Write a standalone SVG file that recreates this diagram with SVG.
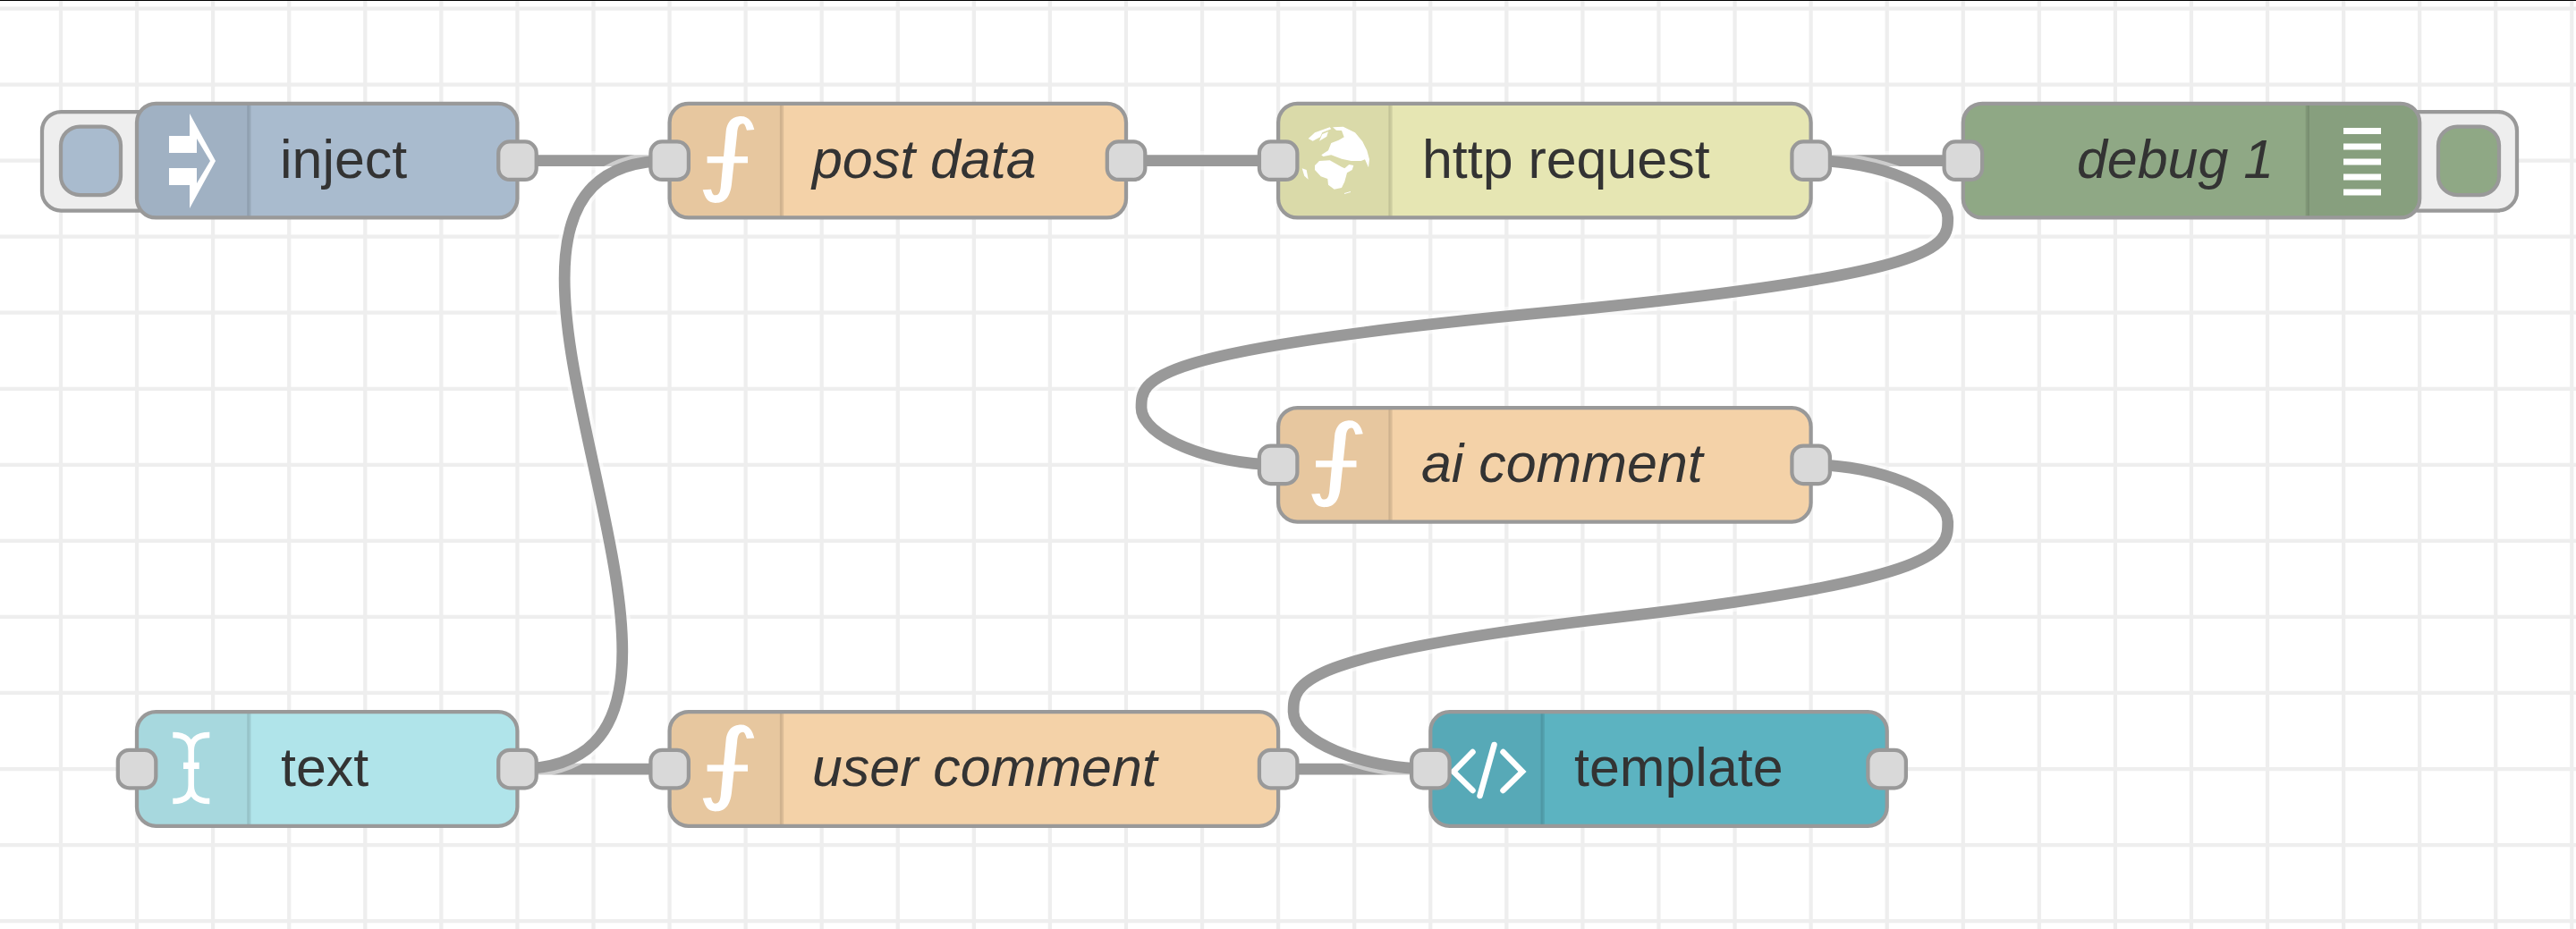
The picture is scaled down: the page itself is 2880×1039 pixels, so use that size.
<svg xmlns="http://www.w3.org/2000/svg" xmlns:xlink="http://www.w3.org/1999/xlink" width="2880" height="1039" viewBox="0 0 2880 1039">
<style>
.grid{stroke:#eeeeee;stroke-width:4.25;fill:none}
.outline{fill:none;stroke:#fff;stroke-width:21.3;opacity:.5}
.wire{fill:none;stroke:#999;stroke-width:12.75}
.body{stroke:none}
.border{fill:none;stroke:#999;stroke-width:4.25}
.port{fill:#d9d9d9;stroke:#999;stroke-width:4.25}
.shade{fill:#000;opacity:.05}
.div{stroke:#000;stroke-opacity:.1;stroke-width:4.25}
.btn{fill:#eee;stroke:#999;stroke-width:4.25}
.lbl{font-family:"Liberation Sans",Arial,sans-serif;font-size:60.9px;fill:#333}
.it{font-style:italic}
.ic{fill:#fff;stroke:none}
.ics{fill:none;stroke:#fff}
.inj{fill:#a9bbce}.fn{fill:#f4d2a8}.htp{fill:#e6e6b3}.dbg{fill:#8fa885}.txt{fill:#b0e4ea}.tpl{fill:#5cb3c1}
</style>
<defs>
<path id="shadeL" d="M21.3 0H125.4V127.6H21.3A21.3 21.3 0 0 1 0 106.3V21.3A21.3 21.3 0 0 1 21.3 0Z"/>
<g id="fnIcon">
<path class="ic" d="M94.7-34.6L86.4-33.9C85-38 84-41.3 82-41.3C78-41.3 76-38 75.5-30L69.7 23.7C68.1 43.7 59.7 47.2 51.4 47.4C42 47.1 39.7 41.1 37.1 32.7L46.4 32.1C48 38 49 38.7 51.4 38.7C56.4 38.7 57 32 57.4 27.1L63.1-32.9C64.7-46.3 73.1-49.6 79.7-49.6C89.7-49.6 93.1-41.3 94.7-34.6Z"/>
<rect class="ic" x="42" y="-4.6" width="45.4" height="7.3"/>
</g>
</defs>
<rect width="2880" height="1039" fill="#fff"/>
<rect width="2880" height="1" fill="#000"/>
<path class="grid" d="M68 1V1039M153.07 1V1039M238.14 1V1039M323.21 1V1039M408.28 1V1039M493.35 1V1039M578.42 1V1039M663.49 1V1039M748.56 1V1039M833.63 1V1039M918.7 1V1039M1003.77 1V1039M1088.84 1V1039M1173.91 1V1039M1258.98 1V1039M1344.05 1V1039M1429.12 1V1039M1514.19 1V1039M1599.26 1V1039M1684.33 1V1039M1769.4 1V1039M1854.47 1V1039M1939.54 1V1039M2024.61 1V1039M2109.68 1V1039M2194.75 1V1039M2279.82 1V1039M2364.89 1V1039M2449.96 1V1039M2535.03 1V1039M2620.1 1V1039M2705.17 1V1039M2790.24 1V1039M2875.31 1V1039"/>
<path class="grid" d="M0 9.5H2880M0 94.55H2880M0 179.6H2880M0 264.65H2880M0 349.7H2880M0 434.75H2880M0 519.8H2880M0 604.85H2880M0 689.9H2880M0 774.95H2880M0 860H2880M0 945.05H2880M0 1030.1H2880"/>

<g id="connectors">
<path class="outline" d="M578.4 179.6H748.6"/><path class="wire" d="M578.4 179.6H748.6"/>
<path class="outline" d="M1259 179.6H1429.1"/><path class="wire" d="M1259 179.6H1429.1"/>
<path class="outline" d="M2024.6 179.6H2194.8"/><path class="wire" d="M2024.6 179.6H2194.8"/>
<path class="outline" d="M578.4 860H748.6"/><path class="wire" d="M578.4 860H748.6"/>
<path class="outline" d="M1429.1 860H1599.3"/><path class="wire" d="M1429.1 860H1599.3"/>
<path class="outline" d="M578.4 860C897.4 860 429.5 179.6 748.6 179.6"/><path class="wire" d="M578.4 860C897.4 860 429.5 179.6 748.6 179.6"/>
<path class="outline" d="M2024.6 179.6C2101.2 179.6 2177.7 211.5 2177.7 243.4S2177.7 307.2 1726.9 349.7S1276 424.1 1276 456S1352.6 519.8 1429.1 519.8"/><path class="wire" d="M2024.6 179.6C2101.2 179.6 2177.7 211.5 2177.7 243.4S2177.7 307.2 1726.9 349.7S1276 424.1 1276 456S1352.6 519.8 1429.1 519.8"/>
<path class="outline" d="M2024.6 519.8C2101.2 519.8 2177.7 551.7 2177.7 583.6S2177.7 647.4 1811.9 689.9S1446.1 764.3 1446.1 796.2S1522.7 860 1599.3 860"/><path class="wire" d="M2024.6 519.8C2101.2 519.8 2177.7 551.7 2177.7 583.6S2177.7 647.4 1811.9 689.9S1446.1 764.3 1446.1 796.2S1522.7 860 1599.3 860"/>
</g>

<g id="node-inject">
<rect class="btn" x="47" y="125" width="130" height="110.5" rx="21.3"/>
<rect class="inj" x="68" y="141.5" width="67" height="76.5" rx="21.3" stroke="#999" stroke-width="4.25"/>
<rect class="body inj" x="153" y="115.8" width="425.4" height="127.6" rx="21.3"/>
<use href="#shadeL" class="shade" x="153" y="115.8"/>
<path class="div" d="M278.4 115.8V243.4"/>
<rect class="border" x="153" y="115.8" width="425.4" height="127.6" rx="21.3"/>
<rect class="ic" x="189" y="152" width="31" height="19"/>
<rect class="ic" x="189" y="188" width="31" height="19"/>
<path class="ic" d="M212 127L241 180L212 233L212 207L220 205L235 180L220 155L212 152Z"/>
<text class="lbl" x="313" y="199">inject</text>
<rect class="port" x="557.2" y="158.4" width="42.5" height="42.5" rx="12.75"/>
</g>

<g id="node-post-data">
<rect class="body fn" x="748.6" y="115.8" width="510.4" height="127.6" rx="21.3"/>
<use href="#shadeL" class="shade" x="748.6" y="115.8"/>
<path class="div" d="M874 115.8V243.4"/>
<rect class="border" x="748.6" y="115.8" width="510.4" height="127.6" rx="21.3"/>
<use href="#fnIcon" x="748.6" y="179.6"/>
<text class="lbl it" x="908" y="199">post data</text>
<rect class="port" x="727.4" y="158.4" width="42.5" height="42.5" rx="12.75"/>
<rect class="port" x="1237.8" y="158.4" width="42.5" height="42.5" rx="12.75"/>
</g>

<g id="node-http-request">
<rect class="body htp" x="1429.1" y="115.8" width="595.5" height="127.6" rx="21.3"/>
<use href="#shadeL" class="shade" x="1429.1" y="115.8"/>
<path class="div" d="M1554.5 115.8V243.4"/>
<rect class="border" x="1429.1" y="115.8" width="595.5" height="127.6" rx="21.3"/>
<path class="ic" d="M1462.7 155L1470 148.3L1486.7 142.3L1488.3 144.3L1478.3 148.3L1476 153.3L1467.7 157.7Z"/>
<path class="ic" d="M1475 157.7L1478.3 150L1485 147.3L1483.3 152.7Z"/>
<path class="ic" d="M1490 142.3L1501.7 141.7L1515 148.3L1523.3 158.3L1528.3 168.3L1531 178.3L1530 187.3L1526 178.3L1521.7 180L1510.7 180L1500 177.7L1488.3 173.3L1479.3 175L1477.3 173.3L1485 168.3L1488.3 160L1496.7 156.7L1502.7 153.3L1500 146L1494 145.7Z"/>
<path class="ic" d="M1470 185L1475 180L1486.7 179.3L1500 186.7L1503.3 188.3L1508.3 184L1513.3 185L1511.7 190L1506 193.3L1503.3 203.3L1500 210L1491.7 211.7L1485 206.7L1484.3 200L1476.7 197.3L1470 190Z"/>
<path class="ic" d="M1455.7 188.3L1460.7 190L1462.7 200.7L1458.3 196.7Z"/>
<path class="ics" stroke-width="1" d="M1503 216.5L1510 214.5"/>
<text class="lbl" x="1590" y="199">http request</text>
<rect class="port" x="1407.9" y="158.4" width="42.5" height="42.5" rx="12.75"/>
<rect class="port" x="2003.4" y="158.4" width="42.5" height="42.5" rx="12.75"/>
</g>

<g id="node-debug">
<rect class="btn" x="2682" y="125" width="132" height="110.5" rx="21.3"/>
<rect class="dbg" x="2726" y="141.5" width="68" height="76.5" rx="21.3" stroke="#999" stroke-width="4.25"/>
<rect class="body dbg" x="2194.8" y="115.8" width="510.4" height="127.6" rx="21.3"/>
<path class="shade" d="M2579.8 115.8H2683.9A21.3 21.3 0 0 1 2705.2 137.1V222.1A21.3 21.3 0 0 1 2683.9 243.4H2579.8Z"/>
<path class="div" d="M2579.8 115.8V243.4"/>
<rect class="border" x="2194.8" y="115.8" width="510.4" height="127.6" rx="21.3"/>
<rect class="ic" x="2620" y="143" width="42" height="7"/>
<rect class="ic" x="2620" y="160.5" width="42" height="7"/>
<rect class="ic" x="2620" y="177.5" width="42" height="7"/>
<rect class="ic" x="2620" y="194.5" width="42" height="7"/>
<rect class="ic" x="2620" y="211.5" width="42" height="7"/>
<text class="lbl it" x="2322" y="199">debug 1</text>
<rect class="port" x="2173.6" y="158.4" width="42.5" height="42.5" rx="12.75"/>
</g>

<g id="node-ai-comment">
<rect class="body fn" x="1429.1" y="456" width="595.5" height="127.6" rx="21.3"/>
<use href="#shadeL" class="shade" x="1429.1" y="456"/>
<path class="div" d="M1554.5 456V583.6"/>
<rect class="border" x="1429.1" y="456" width="595.5" height="127.6" rx="21.3"/>
<use href="#fnIcon" x="1429.1" y="519.8"/>
<text class="lbl it" x="1589" y="539">ai comment</text>
<rect class="port" x="1407.9" y="498.6" width="42.5" height="42.5" rx="12.75"/>
<rect class="port" x="2003.4" y="498.6" width="42.5" height="42.5" rx="12.75"/>
</g>

<g id="node-text">
<rect class="body txt" x="153" y="796.2" width="425.4" height="127.6" rx="21.3"/>
<use href="#shadeL" class="shade" x="153" y="796.2"/>
<path class="div" d="M278.4 796.2V923.8"/>
<rect class="border" x="153" y="796.2" width="425.4" height="127.6" rx="21.3"/>
<path class="ics" stroke-width="6.5" d="M193.3 822C205 822 213.7 826 213.7 840V878C213.7 892 205 896 193.3 896M234.3 822C222 822 213.7 826 213.7 840M213.7 878C213.7 892 222 896 234.3 896"/>
<rect class="ic" x="205" y="852.7" width="17.7" height="7.3"/>
<text class="lbl" x="314" y="879">text</text>
<rect class="port" x="131.8" y="838.8" width="42.5" height="42.5" rx="12.75"/>
<rect class="port" x="557.2" y="838.8" width="42.5" height="42.5" rx="12.75"/>
</g>

<g id="node-user-comment">
<rect class="body fn" x="748.6" y="796.2" width="680.5" height="127.6" rx="21.3"/>
<use href="#shadeL" class="shade" x="748.6" y="796.2"/>
<path class="div" d="M874 796.2V923.8"/>
<rect class="border" x="748.6" y="796.2" width="680.5" height="127.6" rx="21.3"/>
<use href="#fnIcon" x="748.6" y="860"/>
<text class="lbl it" x="908" y="879">user comment</text>
<rect class="port" x="727.4" y="838.8" width="42.5" height="42.5" rx="12.75"/>
<rect class="port" x="1407.9" y="838.8" width="42.5" height="42.5" rx="12.75"/>
</g>

<g id="node-template">
<rect class="body tpl" x="1599.3" y="796.2" width="510.4" height="127.6" rx="21.3"/>
<use href="#shadeL" class="shade" x="1599.3" y="796.2"/>
<path class="div" d="M1724.7 796.2V923.8"/>
<rect class="border" x="1599.3" y="796.2" width="510.4" height="127.6" rx="21.3"/>
<path class="ics" stroke-width="6.5" stroke-linecap="round" d="M1646.5 841L1625 863L1646.5 884M1680.5 841L1702 863L1680.5 884M1670.5 833L1654.5 890"/>
<text class="lbl" x="1760" y="879">template</text>
<rect class="port" x="1578.1" y="838.8" width="42.5" height="42.5" rx="12.75"/>
<rect class="port" x="2088.4" y="838.8" width="42.5" height="42.5" rx="12.75"/>
</g>
</svg>
